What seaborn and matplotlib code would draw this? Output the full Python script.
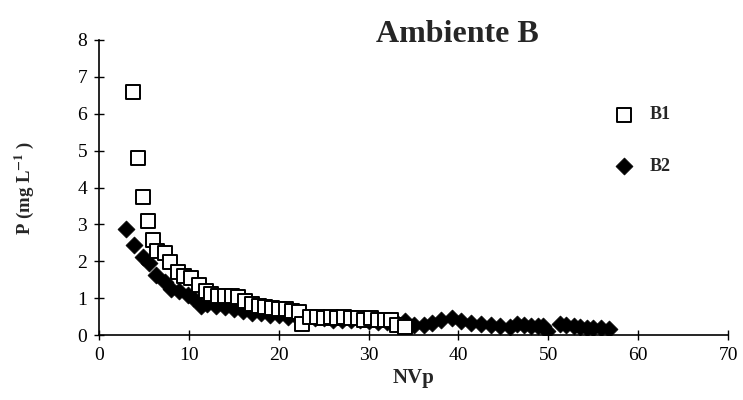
import numpy as np
import pandas as pd
import matplotlib
matplotlib.use('Agg')
import matplotlib.pyplot as plt
import seaborn as sns

# Data
b1_x = [3.8, 4.3, 4.9, 5.4, 6.0, 6.5, 7.4, 7.9, 8.8, 9.5, 10.2, 11.1, 11.9, 12.5,
        13.2, 14.0, 14.8, 15.5, 16.2, 17.0, 17.8, 18.5, 19.2, 20.0, 20.8, 21.5,
        22.3, 22.6, 23.5, 24.3, 25.0, 25.8, 26.5, 27.3, 28.0, 28.8, 29.5, 30.3,
        31.0, 31.8, 32.5, 33.2, 34.1]
b1_y = [6.6, 4.8, 3.75, 3.1, 2.57, 2.27, 2.22, 1.98, 1.72, 1.6, 1.54, 1.35, 1.2, 1.1,
        1.05, 1.05, 1.05, 1.02, 0.92, 0.85, 0.8, 0.76, 0.74, 0.7, 0.7, 0.65,
        0.62, 0.3, 0.5, 0.5, 0.47, 0.5, 0.46, 0.5, 0.46, 0.45, 0.42, 0.45,
        0.42, 0.42, 0.4, 0.27, 0.22]

b2_x = [3.0, 3.9, 4.9, 5.6, 6.3, 7.3, 8.0, 8.9, 9.9, 10.5, 11.3, 12.0, 13.0, 14.0,
        15.0, 16.0, 17.0, 18.0, 19.0, 20.0, 21.0, 22.0, 23.0, 24.0, 25.0, 26.0,
        27.0, 28.0, 29.0, 30.0, 31.0, 32.0, 33.0, 34.0, 35.0, 36.2, 37.0, 38.0,
        39.3, 40.3, 41.4, 42.5, 43.6, 44.6, 45.7, 46.5, 47.3, 48.1, 48.8, 49.4,
        49.9, 51.3, 52.0, 52.8, 53.5, 54.3, 55.0, 55.8, 56.8]
b2_y = [2.87, 2.44, 2.12, 1.94, 1.63, 1.44, 1.25, 1.2, 1.08, 1.0, 0.78, 0.85, 0.8, 0.75,
        0.7, 0.65, 0.6, 0.6, 0.55, 0.55, 0.5, 0.5, 0.45, 0.47, 0.45, 0.42,
        0.42, 0.4, 0.4, 0.38, 0.36, 0.36, 0.35, 0.38, 0.27, 0.27, 0.32, 0.4,
        0.45, 0.38, 0.33, 0.3, 0.27, 0.25, 0.22, 0.3, 0.27, 0.25, 0.24, 0.24,
        0.1, 0.3, 0.27, 0.25, 0.22, 0.2, 0.2, 0.18, 0.17]

x_ticks = [0, 10, 20, 30, 40, 50, 60, 70]
y_ticks = [0, 1, 2, 3, 4, 5, 6, 7, 8]

df1 = pd.DataFrame({'NVp': b1_x, 'P': b1_y})
df2 = pd.DataFrame({'NVp': b2_x, 'P': b2_y})

sns.set_style('ticks')
plt.rcParams['font.family'] = ['Liberation Serif', 'DejaVu Serif']
plt.rcParams['mathtext.fontset'] = 'stix'

fig = plt.figure(figsize=(7.43, 4.0), dpi=100)
ax = fig.add_axes([0.1332, 0.1625, 0.8468, 0.7375])

sns.scatterplot(data=df1, x='NVp', y='P', ax=ax, marker='s', s=95,
                facecolor='white', edgecolor='black', linewidth=1.4, label='B1', zorder=3)
sns.scatterplot(data=df2, x='NVp', y='P', ax=ax, marker='D', s=75,
                color='black', edgecolor='black', linewidth=0.5, label='B2', zorder=2)

ax.set_xlim(0, 70)
ax.set_ylim(0, 8)
ax.set_xticks(x_ticks)
ax.set_yticks(y_ticks)
ax.tick_params(direction='inout', length=7, width=1, labelsize=14, colors='black', pad=5)
for s in ['left', 'bottom']:
    ax.spines[s].set_linewidth(1.2)
    ax.spines[s].set_color('black')
sns.despine(ax=ax)

ax.set_xlabel('NVp', fontsize=15, fontweight='bold', labelpad=3)
ax.set_ylabel(r'P (mg L$^{\mathbf{-1}}$ )', fontsize=13.5, fontweight='bold', labelpad=30)
ax.set_title('Ambiente B', fontsize=23, fontweight='bold', x=0.57, y=0.965)

ax.legend(loc='upper left', bbox_to_anchor=(0.78, 0.83), frameon=False,
          labelspacing=1.9, handletextpad=0.4, prop={'weight': 'bold', 'size': 13})

fig.savefig('out.png', dpi=100)
